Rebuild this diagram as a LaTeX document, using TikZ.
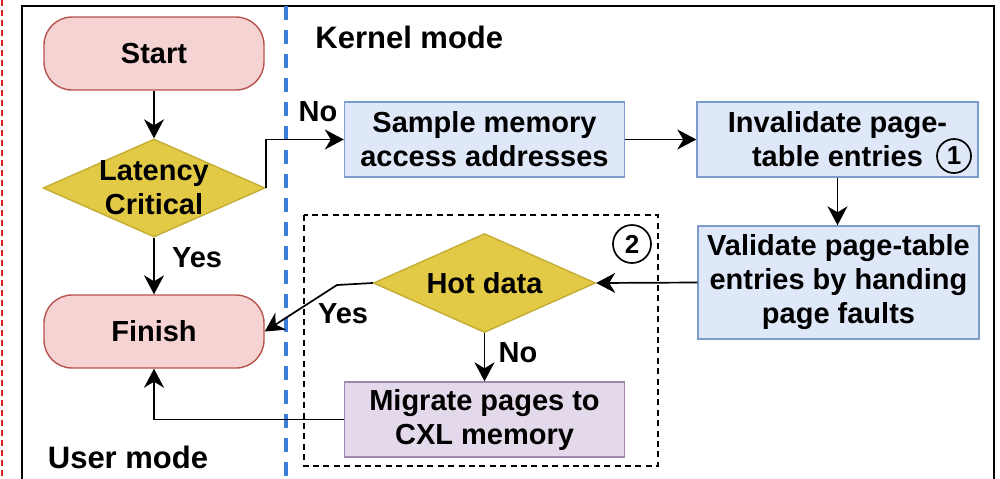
\documentclass[tikz,border=0pt]{standalone}
\usepackage{fontspec}
\setmainfont{Liberation Sans}
\usetikzlibrary{shapes.geometric,arrows.meta}
\definecolor{termfill}{HTML}{F4D3D2}
\definecolor{termdraw}{HTML}{B85450}
\definecolor{procfill}{HTML}{DFE8F9}
\definecolor{procdraw}{HTML}{7C9CCB}
\definecolor{decfill}{HTML}{E2CA47}
\definecolor{decdraw}{HTML}{C4AD35}
\definecolor{migfill}{HTML}{E3D9EA}
\definecolor{migdraw}{HTML}{A086B0}
\definecolor{modeline}{HTML}{3C7DD9}
\definecolor{edgered}{HTML}{D81E1E}
\tikzset{
  lbl/.style={font=\bfseries\fontsize{14.5}{17}\selectfont, align=center, inner sep=0pt},
  modelbl/.style={font=\bfseries\fontsize{15.5}{18}\selectfont, inner sep=0pt},
  term/.style={lbl, draw=termdraw, fill=termfill, line width=0.7pt, rounded corners=14pt, minimum width=110pt, minimum height=36.5pt},
  proc/.style={lbl, draw=procdraw, fill=procfill, line width=0.7pt, minimum width=140pt, minimum height=37.5pt},
  migr/.style={lbl, draw=migdraw, fill=migfill, line width=0.7pt, minimum width=140pt, minimum height=37.5pt},
  dec/.style={diamond, draw=decdraw, fill=decfill, line width=0.7pt, inner sep=0pt, minimum width=111pt, minimum height=49pt},
  numc/.style={circle, draw=black, line width=0.85pt, inner sep=0pt, font=\bfseries\fontsize{13}{13}\selectfont},
  arr/.style={draw=black, line width=0.85pt, -{Stealth[length=9.5pt,width=10pt,inset=3pt]}},
}
\begin{document}
\begin{tikzpicture}[x=0.5pt,y=-0.5pt]
\useasboundingbox (0,0) rectangle (1000,478);
\clip (0,0) rectangle (1000,478);
% frames
\draw[edgered, line width=1pt, dash pattern=on 3pt off 2pt] (1.5,0) -- (1.5,478);
\draw[black, line width=1pt] (22,6) rectangle (994,520);
\draw[modeline, line width=1.6pt, dash pattern=on 7pt off 5pt] (286,6) -- (286,478);
\draw[black, line width=0.7pt, dash pattern=on 3pt off 2.2pt] (304,215) rectangle (658,466);
% nodes
\node[term] (start) at (154,53.5) {Start};
\node[term] (finish) at (154,331.5) {Finish};
\node[dec] (lc) at (154,188) {};
\node[lbl] (lctext) at (lc) {Latency\\Critical};
\node[proc] (sample) at (484.5,139.5) {Sample memory\\access addresses};
\node[proc, minimum width=140.5pt] (inval) at (837.5,139.5) {Invalidate page-\\table entries\hspace{26pt}};
\node[proc, minimum width=140.5pt, minimum height=56.5pt] (valid) at (838.5,282.5) {Validate page-table\\entries by handing\\page faults};
\node[dec, minimum height=49.5pt] (hot) at (484.5,283) {};
\node[lbl] (hottext) at (hot) {Hot data};
\node[migr] (migrate) at (484.5,419.5) {Migrate pages to\\CXL memory};
\node[numc, minimum size=17pt] (one) at (954,156) {1};
\node[numc, minimum size=19pt] (two) at (632,244) {2};
\node[modelbl, anchor=west] (kernel) at (315,37) {Kernel mode};
\node[modelbl] (user) at (128,457) {User mode};
% connectors
\draw[arr] (start.south) -- (lc.north);
\draw[arr] (lc.south) -- (finish.north);
\node[lbl] (yes1) at (197,258) {Yes};
\draw[arr] (lc.east) |- (sample.west);
\node[lbl] (no1) at (318,112) {No};
\draw[arr] (sample.east) -- (inval.west);
\draw[arr] (inval.south) -- (inval.south |- valid.north);
\draw[arr] (valid.west) -- (hot.east);
\coordinate (bend) at (337,285);
\draw[arr] (hot.west) -- (bend) -- (finish.east);
\node[lbl] (yes2) at (343,314) {Yes};
\draw[arr] (hot.south) -- (migrate.north);
\node[lbl] (no2) at (518,353) {No};
\draw[arr] (migrate.west) -| (finish.south);
\end{tikzpicture}
\end{document}
